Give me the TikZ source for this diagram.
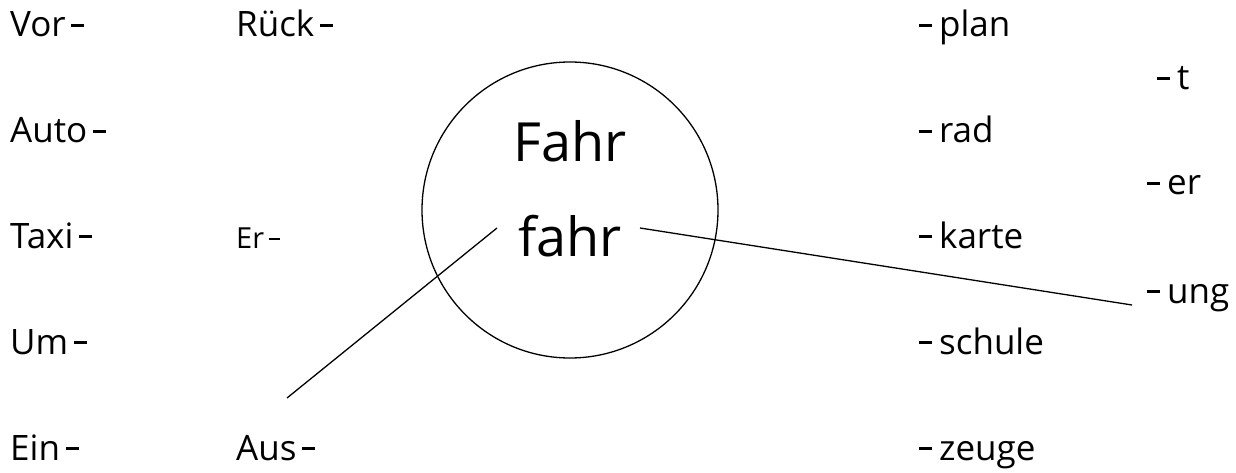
\documentclass[tikz,border=0pt]{standalone}
\usepackage{fontspec}
\setmainfont{Open Sans}
\newcommand{\dashR}{\kern0.16em\rule[0.28em]{0.37em}{0.08em}}
\newcommand{\dashL}{\rule[0.28em]{0.37em}{0.08em}\kern0.2em}
\begin{document}
\begin{tikzpicture}[x=1pt,y=-1pt,
  word/.style={anchor=base west,inner sep=0pt,font=\fontsize{35}{40}\selectfont},
  smallword/.style={anchor=base west,inner sep=0pt,font=\fontsize{29}{34}\selectfont},
  bigword/.style={anchor=base,inner sep=0pt,font=\fontsize{54}{60}\selectfont},
  link/.style={line width=1.3pt}]
\useasboundingbox (0,0) rectangle (1236,473);
% left column
\node[word] (vor)  at (10,37)  {Vor\dashR};
\node[word] (auto) at (10,143) {Auto\dashR};
\node[word] (taxi) at (10,248) {Taxi\dashR};
\node[word] (um)   at (10,354) {Um\dashR};
\node[word] (ein)  at (10,460) {Ein\dashR};
% second column
\node[word] (rueck) at (236,37)  {Rück\dashR};
\node[smallword] (er) at (236,248) {Er\dashR};
\node[word] (aus)  at (236,460) {Aus\dashR};
% circle
\node[draw,circle,line width=1.3pt,minimum size=296pt,inner sep=0pt] (ring) at (570,210) {};
\node[bigword] (Fahr) at (570,162) {Fahr};
\node[bigword] (fahr) at (570,256) {fahr};
% right column
\node[word] (plan)   at (919,37)  {\dashL plan};
\node[word] (rad)    at (919,143) {\dashL rad};
\node[word] (karte)  at (919,248) {\dashL karte};
\node[word] (schule) at (919,354) {\dashL schule};
\node[word] (zeuge)  at (919,460) {\dashL zeuge};
% far right
\node[word] (t)   at (1157,90)  {\dashL t};
\node[word] (erS) at (1147,195) {\dashL er};
\node[word] (ung) at (1147,303) {\dashL ung};
% connectors
\coordinate (a1) at (497,228);
\coordinate (a2) at (287,398);
\coordinate (b1) at (640,228);
\coordinate (b2) at (1132,305);
\draw[link] (a1) -- (a2);
\draw[link] (b1) -- (b2);
\end{tikzpicture}
\end{document}
